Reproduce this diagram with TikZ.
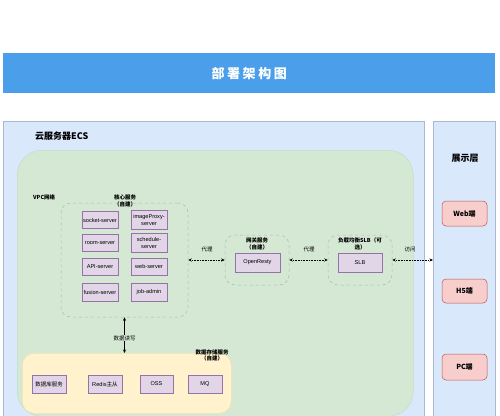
\documentclass[tikz,border=0pt]{standalone}
\usepackage{fontspec}
\setmainfont{Liberation Sans}
\newfontfamily\cjk{Noto Sans CJK SC}
\usetikzlibrary{arrows.meta}
\definecolor{titleblue}{HTML}{4A9EEA}
\definecolor{ecsfill}{HTML}{DAE8FC}
\definecolor{ecsline}{HTML}{A9B9D3}
\definecolor{vpcfill}{HTML}{D5E8D4}
\definecolor{vpcline}{HTML}{C3DDC1}
\definecolor{grpline}{HTML}{A8BCA6}
\definecolor{pfill}{HTML}{E1D5E7}
\definecolor{pline}{HTML}{9673A6}
\definecolor{yfill}{HTML}{FFF2CC}
\definecolor{yline}{HTML}{F3E2A9}
\definecolor{rfill}{HTML}{F8CECC}
\definecolor{rline}{HTML}{B85450}
\begin{document}
\begin{tikzpicture}[x=1pt,y=-1pt,
  panel/.style={draw=ecsline, fill=ecsfill, line width=0.6pt, inner sep=0, anchor=north west},
  grp/.style={draw=grpline, dashed, rounded corners=10pt, line width=0.5pt, inner sep=0},
  svc/.style={draw=pline, fill=pfill, line width=0.5pt, inner sep=0, minimum width=36pt, minimum height=17pt, align=center, font=\fontsize{5.6}{6.3}\selectfont},
  endbox/.style={draw=rline, fill=rfill, line width=0.5pt, rounded corners=4pt, inner sep=0, minimum width=45pt, minimum height=25pt, font=\cjk\bfseries\fontsize{7}{8}\selectfont},
  lbl/.style={inner sep=0, align=center, font=\cjk\bfseries\fontsize{5.5}{6.5}\selectfont},
  elbl/.style={inner sep=0.5pt, font=\cjk\fontsize{5.5}{6.5}\selectfont},
  dotarrow/.style={densely dotted, line width=0.6pt, {Stealth[length=3.5pt,width=3pt]}-{Stealth[length=3.5pt,width=3pt]}},
  solarrow/.style={line width=0.5pt, {Stealth[length=3.5pt,width=3pt]}-{Stealth[length=3.5pt,width=3pt]}}
]
\useasboundingbox (0,0) rectangle (500,415);
\clip (0,0) rectangle (500,415);
\fill[white] (0,0) rectangle (500,415);

% title
\node[fill=titleblue, minimum width=492pt, minimum height=40pt, inner sep=0, anchor=north west,
  text=white, font=\cjk\bfseries\fontsize{13}{14}\selectfont] (title) at (3,53)
  {部\hspace{2.6pt}署\hspace{2.6pt}架\hspace{2.6pt}构\hspace{2.6pt}图};

% panels
\node[panel, minimum width=421pt, minimum height=310pt] (ecs) at (3,121) {};
\node[panel, minimum width=62pt, minimum height=310pt] (show) at (433,121) {};
\node[inner sep=0, font=\cjk\bfseries\fontsize{9}{10}\selectfont, anchor=west] (ecslbl) at (35,136) {云服务器ECS};
\node[inner sep=0, font=\cjk\bfseries\fontsize{9}{10}\selectfont] (showlbl) at (465,158) {展示层};

% VPC
\node[draw=vpcline, fill=vpcfill, rounded corners=25pt, line width=0.5pt, inner sep=0,
  minimum width=396pt, minimum height=266pt, anchor=north west] (vpc) at (17,150) {};
\node[inner sep=0, font=\cjk\bfseries\fontsize{5.5}{6.5}\selectfont, anchor=west] (vpclbl) at (33,197) {VPC网络};

% core group
\node[grp, minimum width=127pt, minimum height=114pt] (core) at (124.5,260) {};
\node[lbl] (corelbl) at (125,201) {核心服务\\（自建）};
\node[svc] (socket) at (100,220) {socket-server};
\node[svc, minimum height=19pt] (image) at (149,220) {imageProxy-\\server};
\node[svc] (room) at (100,243) {room-server};
\node[svc, minimum height=19pt] (sched) at (149,243) {schedule-\\server};
\node[svc] (api) at (100,266.5) {API-server};
\node[svc] (web) at (149,266.5) {web-server};
\node[svc, minimum height=18pt] (fusion) at (100,292) {fusion-server};
\node[svc, minimum height=18pt] (job) at (149,292) {job-admin};

% gateway group
\node[grp, minimum width=64pt, minimum height=50pt] (gw) at (257,260) {};
\node[lbl] (gwlbl) at (257,244) {网关服务\\（自建）};
\node[svc, minimum width=45pt, minimum height=19pt] (openresty) at (257.5,262.5) {OpenResty};

% SLB group
\node[grp, minimum width=64pt, minimum height=50pt] (slbg) at (360,260) {};
\node[lbl] (slblbl) at (360,244) {负载均衡SLB（可\\选）};
\node[svc, minimum width=44pt, minimum height=19pt] (slb) at (360,262.5) {SLB};

% storage group
\node[draw=yline, fill=yfill, rounded corners=12pt, line width=0.5pt, inner sep=0,
  minimum width=209pt, minimum height=60pt, anchor=north west] (store) at (22,353) {};
\node[lbl] (storelbl) at (212,355.5) {数据存储服务\\（自建）};
\node[svc, minimum width=34pt, minimum height=18pt, font=\cjk\fontsize{5.5}{6.2}\selectfont] (db) at (49,384) {数据库服务};
\node[svc, minimum width=34pt, minimum height=18pt] (redis) at (105,384) {Redis{\cjk 主从}};
\node[svc, minimum width=33pt, minimum height=18pt] (oss) at (156.5,384) {OSS};
\node[svc, minimum width=34pt, minimum height=18pt] (mq) at (205,384) {MQ};

% display ends
\node[endbox] (webend) at (464.5,213.5) {Web端};
\node[endbox, minimum height=24pt] (h5end) at (464.5,291) {H5端};
\node[endbox, minimum height=26pt] (pcend) at (464.5,367) {PC端};

% connectors
\draw[dotarrow] (core.east) -- (gw.west);
\draw[dotarrow] (gw.east) -- (slbg.west);
\draw[dotarrow] (slbg.east) -- (slbg.east -| show.west);
\node[elbl] (l1) at (207,249) {代理};
\node[elbl] (l2) at (309,249) {代理};
\node[elbl] (l3) at (410,249) {访问};

\draw[solarrow] (core.south) -- (core.south |- store.north);
\node[elbl, fill=vpcfill] (l4) at (124.5,338) {数据读写};
\end{tikzpicture}
\end{document}
